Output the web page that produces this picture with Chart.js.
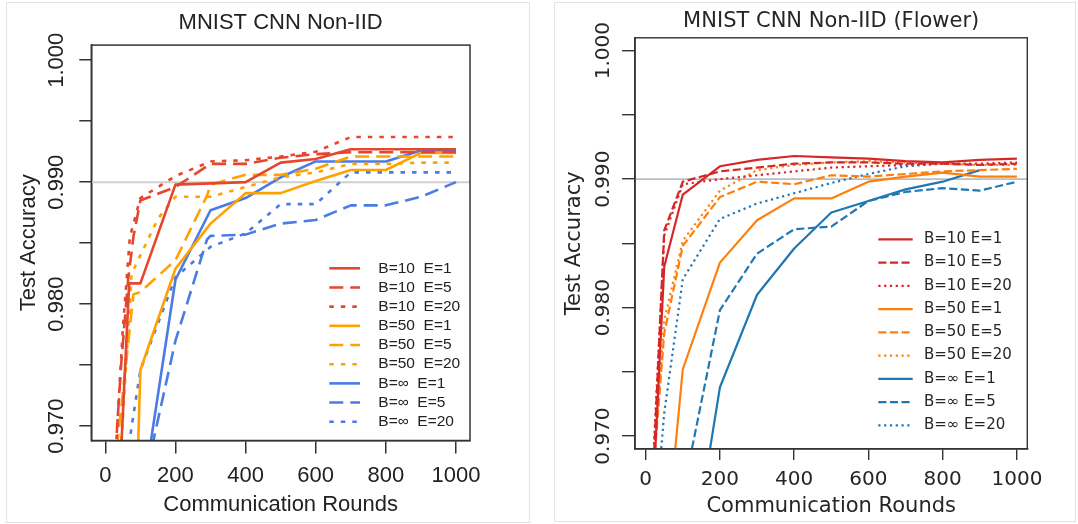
<!DOCTYPE html>
<html>
<head>
<meta charset="utf-8">
<script src="https://cdn.jsdelivr.net/npm/chart.js@4.4.1/dist/chart.umd.min.js"></script>
<style>
  html, body { margin: 0; padding: 0; background: #fff; }
  body { width: 1078px; height: 524px; position: relative; overflow: hidden; }
  .frame { position: absolute; border: 1px solid #e3e3e3; box-sizing: border-box; }
  canvas { position: absolute; top: 0; }
</style>
</head>
<body>
<div class="frame" style="left:6px;top:2px;width:524px;height:521px"></div>
<div class="frame" style="left:554px;top:2px;width:522px;height:520px"></div>
<canvas id="leftChart" width="540" height="524" style="left:0"></canvas>
<canvas id="rightChart" width="538" height="524" style="left:540px"></canvas>
<script>
// ---- data: left panel "MNIST CNN Non-IID" ----
const lB10E1Rounds = [40, 68, 100, 200, 300, 400, 500, 600, 700, 800, 900, 1000];
const lB10E1Acc    = [0.9650, 0.9817, 0.9817, 0.9898, 0.9899, 0.9900, 0.9916, 0.9919, 0.9927, 0.9927, 0.9927, 0.9927];
const lB10E5Rounds = [25, 45, 65, 80, 100, 200, 300, 400, 500, 600, 700, 800, 900, 1000];
const lB10E5Acc    = [0.9660, 0.9750, 0.9820, 0.9855, 0.9885, 0.9896, 0.9915, 0.9915, 0.9920, 0.9923, 0.99245, 0.99245, 0.99245, 0.99245];
const lB10E20Rounds = [30, 50, 70, 100, 200, 300, 400, 500, 600, 700, 800, 900, 1000];
const lB10E20Acc    = [0.9680, 0.9780, 0.9855, 0.9887, 0.9905, 0.9917, 0.9918, 0.9921, 0.9925, 0.9937, 0.9937, 0.9937, 0.9937];
const lB50E1Rounds = [90, 100, 200, 300, 400, 500, 600, 700, 800, 900, 1000];
const lB50E1Acc    = [0.9650, 0.9746, 0.9829, 0.9866, 0.9891, 0.9891, 0.9901, 0.9910, 0.9910, 0.9924, 0.9924];
const lB50E5Rounds = [20, 60, 80, 100, 200, 290, 300, 400, 500, 600, 700, 800, 900, 1000];
const lB50E5Acc    = [0.9648, 0.9754, 0.9808, 0.9810, 0.9836, 0.9889, 0.9898, 0.9906, 0.9906, 0.9911, 0.9921, 0.9921, 0.9921, 0.9921];
const lB50E20Rounds = [40, 75, 100, 150, 200, 300, 400, 500, 600, 700, 800, 900, 1000];
const lB50E20Acc    = [0.9660, 0.9825, 0.9840, 0.9870, 0.9888, 0.9888, 0.9896, 0.9904, 0.9908, 0.9915, 0.9915, 0.9916, 0.9916];
const lBinfE1Rounds = [110, 200, 300, 400, 500, 600, 700, 800, 900, 1000];
const lBinfE1Acc    = [0.9650, 0.9820, 0.9877, 0.9887, 0.9904, 0.9917, 0.9917, 0.9917, 0.9926, 0.9926];
const lBinfE5Rounds = [120, 200, 290, 300, 400, 500, 600, 700, 800, 900, 1000];
const lBinfE5Acc    = [0.9666, 0.9770, 0.9853, 0.9856, 0.9857, 0.9866, 0.9869, 0.9881, 0.9881, 0.9888, 0.9900];
const lBinfE20Rounds = [62, 100, 200, 300, 400, 500, 600, 700, 800, 900, 1000];
const lBinfE20Acc    = [0.9675, 0.9746, 0.9822, 0.9847, 0.9858, 0.9882, 0.9882, 0.9908, 0.9908, 0.9908, 0.9908];
const leftLabels = ['B=10  E=1', 'B=10  E=5', 'B=10  E=20', 'B=50  E=1', 'B=50  E=5', 'B=50  E=20',
                    'B=\u221e  E=1', 'B=\u221e  E=5', 'B=\u221e  E=20'];

// ---- data: right panel "MNIST CNN Non-IID (Flower)" ----
const rRounds = [20, 50, 100, 200, 300, 400, 500, 600, 700, 800, 900, 1000];
const rB10E1Acc  = [0.9655, 0.9832, 0.9888, 0.9910, 0.9915, 0.9918, 0.9917, 0.9916, 0.9914, 0.9913, 0.9915, 0.9916];
const rB10E5Acc  = [0.9670, 0.9860, 0.9898, 0.9906, 0.9909, 0.9912, 0.9913, 0.9913, 0.9912, 0.9912, 0.9911, 0.9912];
const rB10E20Acc = [0.9680, 0.9856, 0.9896, 0.9900, 0.9903, 0.9906, 0.9909, 0.9910, 0.9911, 0.9912, 0.9912, 0.9913];
const rB50E1Rounds = [50, 100, 200, 300, 400, 500, 600, 700, 800, 900, 1000];
const rB50E1Acc    = [0.9600, 0.9752, 0.9835, 0.9868, 0.9885, 0.9885, 0.9898, 0.9902, 0.9905, 0.9902, 0.9902];
const rB50E5Acc  = [0.9669, 0.9780, 0.9848, 0.9886, 0.9898, 0.9896, 0.9903, 0.9902, 0.9904, 0.9906, 0.9907, 0.9908];
const rB50E20Acc = [0.9675, 0.9790, 0.9852, 0.9891, 0.9907, 0.9911, 0.9913, 0.9914, 0.9913, 0.9912, 0.9911, 0.9911];
const rBinfE1Rounds = [150, 200, 300, 400, 500, 600, 700, 800, 900];
const rBinfE1Acc    = [0.9648, 0.9738, 0.9810, 0.9846, 0.9874, 0.9883, 0.9892, 0.9898, 0.9907];
const rBinfE5Rounds = [100, 200, 300, 400, 500, 600, 700, 800, 900, 1000];
const rBinfE5Acc    = [0.9655, 0.9798, 0.9842, 0.9861, 0.9863, 0.9883, 0.9890, 0.9893, 0.9891, 0.9898];
const rBinfE20Rounds = [30, 50, 100, 200, 300, 400, 500, 600, 700, 800];
const rBinfE20Acc    = [0.9650, 0.9718, 0.9822, 0.9869, 0.9881, 0.9889, 0.9897, 0.9904, 0.9910, 0.9912];
const rightLabels = ['B=10 E=1', 'B=10 E=5', 'B=10 E=20', 'B=50 E=1', 'B=50 E=5', 'B=50 E=20',
                     'B=\u221e E=1', 'B=\u221e E=5', 'B=\u221e E=20'];

// ---- axes ----
const xTickValues = [0, 200, 400, 600, 800, 1000];
const xTickLabels = ['0', '200', '400', '600', '800', '1000'];
const yTickValues = [0.970, 0.975, 0.980, 0.985, 0.990, 0.995, 1.000];
const yTickLabels = ['0.970', '0.980', '0.990', '1.000'];
const refAccuracy = 0.990;

const toPoints = (rounds, acc) => rounds.map((r, i) => ({ x: r, y: acc[i] }));

function makeDecor(p) {
  return {
    id: 'decor',
    beforeDatasetsDraw(chart) {
      const { ctx, chartArea: a, scales: { y } } = chart;
      const py = y.getPixelForValue(refAccuracy);
      ctx.save();
      ctx.strokeStyle = p.refColor;
      ctx.lineWidth = p.refWidth;
      ctx.beginPath();
      ctx.moveTo(a.left, py);
      ctx.lineTo(a.right, py);
      ctx.stroke();
      ctx.restore();
    },
    afterDraw(chart) {
      const { ctx, chartArea: a, scales: { y } } = chart;
      ctx.save();
      // box
      ctx.strokeStyle = p.axisColor;
      ctx.lineWidth = p.axisWidth;
      ctx.strokeRect(a.left, a.top, a.right - a.left, a.bottom - a.top);
      // title
      ctx.fillStyle = p.textColor;
      ctx.font = p.titleSize + 'px "' + p.family + '"';
      ctx.textAlign = 'center';
      ctx.textBaseline = 'middle';
      ctx.fillText(p.title, (a.left + a.right) / 2, p.titleY);
      // rotated y tick labels
      ctx.font = p.tickSize + 'px "' + p.family + '"';
      yTickLabels.forEach(t => {
        ctx.save();
        ctx.translate(p.yLabelX, y.getPixelForValue(parseFloat(t)));
        ctx.rotate(-Math.PI / 2);
        ctx.fillText(t, 0, 0);
        ctx.restore();
      });
      // legend
      ctx.font = p.legendSize + 'px "' + p.family + '"';
      ctx.textAlign = 'left';
      chart.data.datasets.forEach((ds, i) => {
        const ly = p.legendY + i * p.legendStep;
        ctx.save();
        ctx.strokeStyle = ds.borderColor;
        ctx.lineWidth = ds.borderWidth;
        ctx.setLineDash(ds.borderDash);
        ctx.beginPath();
        ctx.moveTo(p.legendX0, ly);
        ctx.lineTo(p.legendX1, ly);
        ctx.stroke();
        ctx.restore();
        ctx.fillText(ds.label, p.legendTextX, ly);
      });
      ctx.restore();
    }
  };
}

function makeChart(id, series, labels, p) {
  const datasets = series.map((s, i) => ({
    label: labels[i],
    data: toPoints(s[0], s[1]),
    borderColor: p.colors[Math.floor(i / 3)],
    borderDash: p.dashes[i % 3],
    borderWidth: p.lineWidth,
    borderCapStyle: 'butt',
    borderJoinStyle: 'round',
    pointRadius: 0,
    tension: 0,
    fill: false,
    clip: 0
  }));
  const font = size => ({ family: p.family, size: size });
  return new Chart(document.getElementById(id), {
    type: 'line',
    data: { datasets },
    options: {
      responsive: false,
      animation: false,
      events: [],
      layout: { autoPadding: false, padding: { left: 0, top: p.areaTop, right: p.padRight, bottom: 0 } },
      plugins: { legend: { display: false }, title: { display: false }, tooltip: { enabled: false } },
      scales: {
        x: {
          type: 'linear', min: p.xMin, max: p.xMax,
          afterBuildTicks: s => { s.ticks = xTickValues.map(v => ({ value: v })); },
          afterFit: s => { s.height = p.xHeight; },
          ticks: { autoSkip: false, maxRotation: 0, padding: p.xTickPad, color: p.textColor, font: font(p.tickSize),
                   callback: v => xTickLabels[xTickValues.indexOf(v)] },
          grid: { drawOnChartArea: false, tickLength: p.xTickLen, color: p.axisColor, lineWidth: p.axisWidth },
          border: { display: true, color: p.axisColor, width: p.axisWidth },
          title: { display: true, text: 'Communication Rounds', color: p.textColor, font: font(p.labelSize),
                   padding: { top: 0, bottom: p.xTitlePad } }
        },
        y: {
          type: 'linear', min: p.yMin, max: p.yMax,
          afterBuildTicks: s => { s.ticks = yTickValues.map(v => ({ value: v })); },
          afterFit: s => { s.width = p.areaLeft; },
          ticks: { display: false },
          grid: { drawOnChartArea: false, tickLength: p.yTickLen, color: p.axisColor, lineWidth: p.axisWidth },
          border: { display: true, color: p.axisColor, width: p.axisWidth },
          title: { display: true, text: 'Test Accuracy', color: p.textColor, font: font(p.labelSize),
                   padding: { top: p.yTitlePad, bottom: 0 } }
        }
      }
    },
    plugins: [makeDecor(p)]
  });
}

makeChart('leftChart', [
  [lB10E1Rounds, lB10E1Acc], [lB10E5Rounds, lB10E5Acc], [lB10E20Rounds, lB10E20Acc],
  [lB50E1Rounds, lB50E1Acc], [lB50E5Rounds, lB50E5Acc], [lB50E20Rounds, lB50E20Acc],
  [lBinfE1Rounds, lBinfE1Acc], [lBinfE5Rounds, lBinfE5Acc], [lBinfE20Rounds, lBinfE20Acc]
], leftLabels, {
  title: 'MNIST CNN Non-IID', family: 'Liberation Sans', textColor: '#222',
  colors: ['#e6462d', '#ffa200', '#4a7be6'], dashes: [[], [14, 7], [4.5, 7]], lineWidth: 2.6,
  axisColor: '#333', axisWidth: 1.5, refColor: '#cfcfcf', refWidth: 2,
  xMin: -40, xMax: 1040, yMin: 0.96882, yMax: 1.001238,
  areaLeft: 91.3, areaTop: 45.1, padRight: 70, xHeight: 83.5,
  xTickLen: 13, yTickLen: 12, xTickPad: 9.6, xTitlePad: 6.1, yTitlePad: 16.1,
  titleSize: 22, tickSize: 22, labelSize: 22, titleY: 23.4, yLabelX: 56.8,
  legendSize: 15.5, legendX0: 329.3, legendX1: 360, legendTextX: 378.3, legendY: 268.3, legendStep: 19.18
});

makeChart('rightChart', [
  [rRounds, rB10E1Acc], [rRounds, rB10E5Acc], [rRounds, rB10E20Acc],
  [rB50E1Rounds, rB50E1Acc], [rRounds, rB50E5Acc], [rRounds, rB50E20Acc],
  [rBinfE1Rounds, rBinfE1Acc], [rBinfE5Rounds, rBinfE5Acc], [rBinfE20Rounds, rBinfE20Acc]
], rightLabels, {
  title: 'MNIST CNN Non-IID (Flower)', family: 'DejaVu Sans', textColor: '#262626',
  colors: ['#d62728', '#ff7f0e', '#1f77b4'], dashes: [[], [8.1, 3.5], [2.2, 3.6]], lineWidth: 2.2,
  axisColor: '#333', axisWidth: 1.4, refColor: '#bdbdbd', refWidth: 1.6,
  xMin: -28.5, xMax: 1028, yMin: 0.969, yMax: 1.001,
  areaLeft: 95.1, areaTop: 37.8, padRight: 50.7, xHeight: 75.1,
  xTickLen: 11, yTickLen: 13, xTickPad: 7.7, xTitlePad: 5.1, yTitlePad: 21.7,
  titleSize: 21, tickSize: 20, labelSize: 21, titleY: 21.7, yLabelX: 63.5,
  legendSize: 15, legendX0: 338.3, legendX1: 372.7, legendTextX: 384, legendY: 239.3, legendStep: 23.25
});
</script>
</body>
</html>
